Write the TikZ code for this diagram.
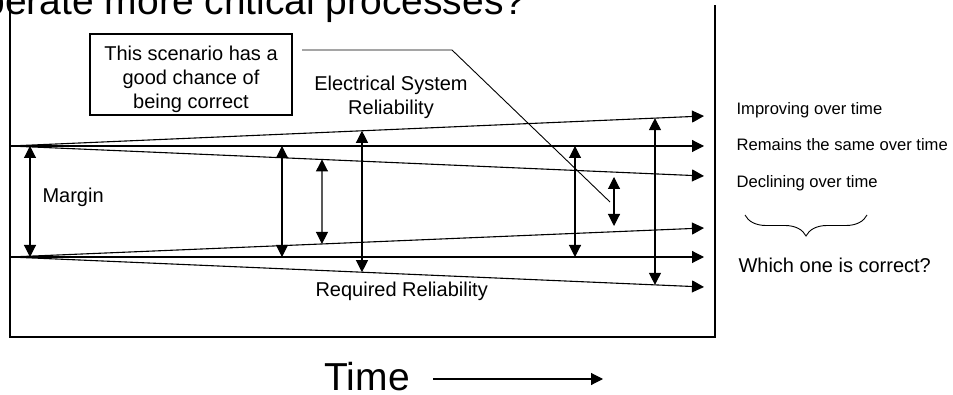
\documentclass[tikz,border=0pt]{standalone}
\usepackage{fontspec}
\setmainfont{Liberation Sans}
\usetikzlibrary{arrows.meta,decorations.pathreplacing}

\begin{document}
\begin{tikzpicture}[x=1pt, y=-1pt, >={Triangle[length=12pt,width=12pt]}, line width=1.1pt,
    txt/.style={inner sep=0pt, font=\fontsize{20}{23.7}\selectfont},
    small/.style={inner sep=0pt, anchor=base west, font=\fontsize{16.6}{20}\selectfont}]

    \useasboundingbox (0,0) rectangle (953,395);

    % Title
    \node[anchor=base west, inner sep=0pt, font=\fontsize{39}{47}\selectfont] (title) at (-17,14.5) {perate more critical processes?};

    % Frame
    \draw (10,0) -- (10,337) -- (715,337) -- (715,5);

    % Start and end points
    \coordinate (up) at (10,146);
    \coordinate (lo) at (10,257);
    \coordinate (ui) at (704,116);
    \coordinate (us) at (704,146);
    \coordinate (ud) at (704,176);
    \coordinate (li) at (704,228);
    \coordinate (ls) at (704,257);
    \coordinate (ld) at (704,287);

    % Trend lines
    \draw[->] (up) -- (ui);
    \draw[->] (up) -- (us);
    \draw[->] (up) -- (ud);
    \draw[->] (lo) -- (li);
    \draw[->] (lo) -- (ls);
    \draw[->] (lo) -- (ld);

    % Margin arrows
    \coordinate (m1t) at (30,146);
    \coordinate (m1b) at (30,257);
    \coordinate (m2t) at (282,146);
    \coordinate (m2b) at (282,257);
    \coordinate (m3t) at (intersection of up--ud and 322,0--322,1);
    \coordinate (m3b) at (intersection of lo--li and 322,0--322,1);
    \coordinate (m4t) at (intersection of up--ui and 362,0--362,1);
    \coordinate (m4b) at (intersection of lo--ld and 362,0--362,1);
    \coordinate (m5t) at (575,146);
    \coordinate (m5b) at (575,257);
    \coordinate (m6t) at (614,177);
    \coordinate (m6b) at (614,226);
    \coordinate (m7t) at (intersection of up--ui and 655,0--655,1);
    \coordinate (m7b) at (intersection of lo--ld and 655,0--655,1);
    \foreach \i in {1,...,7}
        \draw[<->] (m\i t) -- (m\i b);

    % Labels
    \node[txt, anchor=base west] (margin) at (42,202.6) {Margin};
    \node[txt, align=center] (esr) at (391,97) {Electrical System\\Reliability};
    \node[txt, anchor=base west] (req) at (315,297) {Required Reliability};
    \node[small] (imp) at (736,115) {Improving over time};
    \node[small] (same) at (736,151) {Remains the same over time};
    \node[small] (dec) at (736,188) {Declining over time};
    \node[txt, anchor=base west] (which) at (738,272.6) {Which one is correct?};

    % Brace
    \draw[line width=0.9pt, decorate, decoration={brace, mirror, amplitude=21pt}] (745,215) -- (867,215);

    % Callout
    \node[draw, minimum width=202pt, minimum height=81pt,
          label={[txt, align=center, yshift=-4.8pt]center:{This scenario has a\\good chance of\\being correct}}] (note) at (191,74.5) {};
    \coordinate (c1) at (302,50);
    \coordinate (c2) at (452,50);
    \coordinate (c3) at (610,202);
    \draw[line width=0.9pt] (c1) -- (c2) -- (c3);

    % Time axis
    \node[anchor=base west, inner sep=0pt, font=\fontsize{39}{47}\selectfont] (time) at (324,390) {Time};
    \coordinate (t1) at (433,379);
    \coordinate (t2) at (603,379);
    \draw[->] (t1) -- (t2);

\end{tikzpicture}
\end{document}
